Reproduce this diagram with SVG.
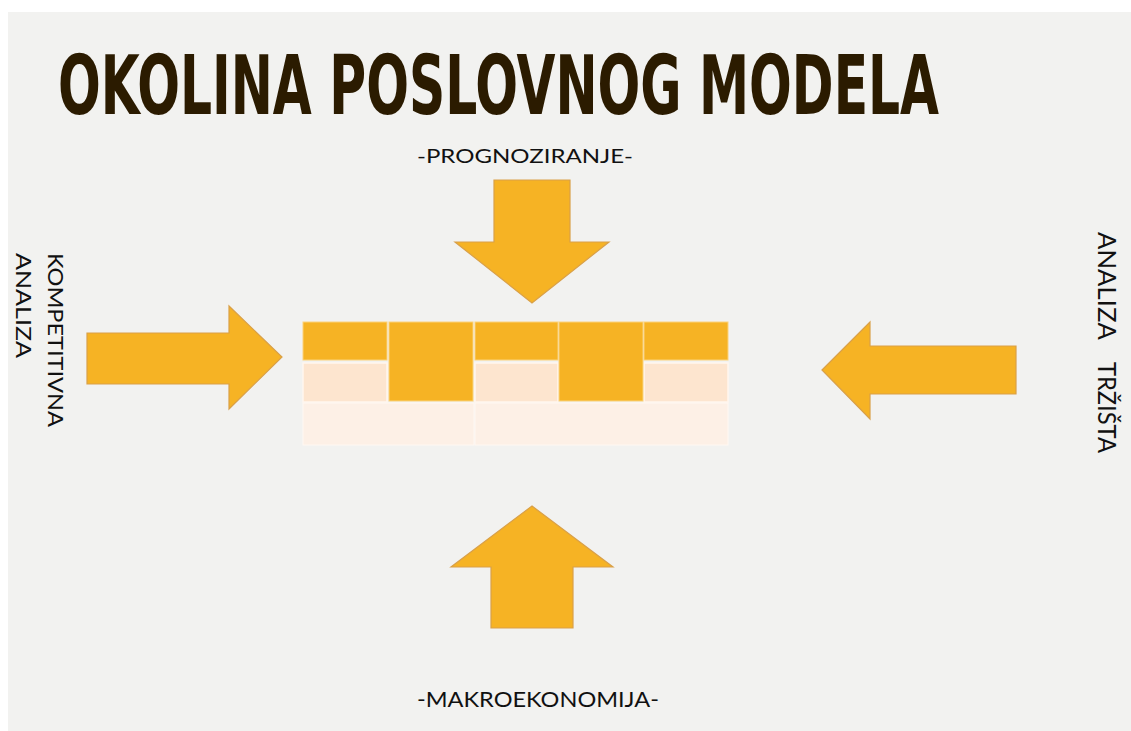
<svg xmlns="http://www.w3.org/2000/svg" width="1131" height="731" viewBox="0 0 1131 731">
<style>
.arrow{fill:#F6B324;stroke:#D9A048;stroke-width:1.2;stroke-linejoin:miter}
.lbl{font-family:"Lato","Open Sans","Liberation Sans",sans-serif;fill:#111;font-weight:400}
.title{font-family:"Liberation Sans Narrow","DejaVu Sans Condensed","Liberation Sans",sans-serif;font-weight:bold;fill:#2B1B00}
.o{fill:#F6B324;stroke:#FBD27A;stroke-width:1}
.p{fill:#FDE5CF;stroke:#FFF6EE;stroke-width:1.5}
.q{fill:#FDF0E6;stroke:#FFF8F2;stroke-width:1}
</style>
<rect x="0" y="0" width="1131" height="731" fill="#FFFFFF"/>
<rect x="8" y="12" width="1123" height="719" fill="#F2F2F0"/>
<g id="title" transform="translate(58,114) scale(1,1.3)"><text class="title" x="0" y="0" font-size="63" textLength="881" lengthAdjust="spacingAndGlyphs">OKOLINA POSLOVNOG MODELA</text></g>
<g id="model">
<rect class="q" x="303" y="403" width="171" height="42"/>
<rect class="q" x="475" y="403" width="253" height="42"/>
<rect class="p" x="303" y="363" width="84" height="39"/>
<rect class="p" x="475" y="363" width="83" height="39"/>
<rect class="p" x="644" y="363" width="84" height="39"/>
<rect class="o" x="303" y="322" width="84" height="38"/>
<rect class="o" x="389" y="322" width="84" height="79"/>
<rect class="o" x="475" y="322" width="83" height="38"/>
<rect class="o" x="559" y="322" width="84" height="79"/>
<rect class="o" x="644" y="322" width="84" height="38"/>
</g>
<g id="connectors">
<polygon id="arrow-top" class="arrow" points="494,180 570,180 570,242 609,242 532,303 455,242 494,242"/>
<polygon id="arrow-bottom" class="arrow" points="532,506 613,567 573,567 573,628 491,628 491,567 451,567"/>
<polygon id="arrow-left" class="arrow" points="87,333 229,333 229,306 282,357 229,409 229,384 87,384"/>
<polygon id="arrow-right" class="arrow" points="822,370 870,322 870,346 1016,346 1016,394 870,394 870,419"/>
</g>
<g id="label-top"><text class="lbl" x="417" y="163" font-size="19" textLength="216" lengthAdjust="spacingAndGlyphs">-PROGNOZIRANJE-</text></g>
<g id="label-bottom"><text class="lbl" x="417" y="707" font-size="21" textLength="242" lengthAdjust="spacingAndGlyphs">-MAKROEKONOMIJA-</text></g>
<g id="label-left" transform="translate(48,253) rotate(90)">
<text class="lbl" x="0" y="0" font-size="22" textLength="174" lengthAdjust="spacingAndGlyphs">KOMPETITIVNA</text>
<text class="lbl" x="0" y="32" font-size="22" textLength="105" lengthAdjust="spacingAndGlyphs">ANALIZA</text>
</g>
<g id="label-right" transform="translate(1098,232) rotate(90)">
<text class="lbl" x="0" y="0" font-size="25"><tspan textLength="108" lengthAdjust="spacingAndGlyphs">ANALIZA</tspan><tspan x="130" textLength="91" lengthAdjust="spacingAndGlyphs">TRŽIŠTA</tspan></text>
</g>
</svg>
